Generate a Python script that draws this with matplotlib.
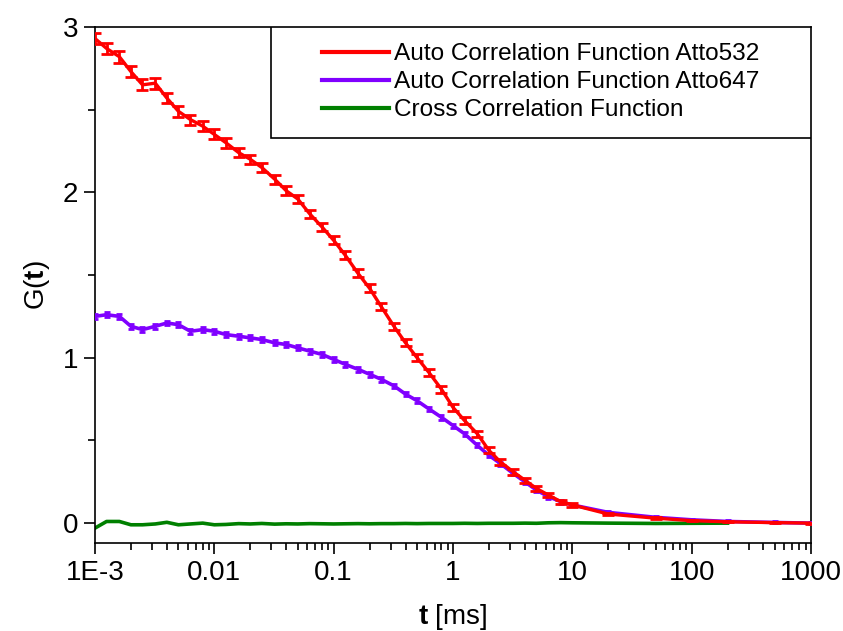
import matplotlib
matplotlib.use("Agg")
import matplotlib.pyplot as plt
from matplotlib.patches import Rectangle
from matplotlib.lines import Line2D
from matplotlib.ticker import FixedLocator, FixedFormatter, LogLocator, MultipleLocator

plt.rcParams['font.family'] = ['Liberation Sans', 'DejaVu Sans']
plt.rcParams['mathtext.fontset'] = 'custom'
plt.rcParams['mathtext.bf'] = 'Liberation Sans:bold'
plt.rcParams['mathtext.rm'] = 'Liberation Sans'

# lag time [ms]
t = [0.001, 0.00125, 0.0016, 0.002, 0.0025, 0.0032, 0.004, 0.005, 0.0063, 0.008,
     0.01, 0.0125, 0.016, 0.02, 0.025, 0.032, 0.04, 0.05, 0.063, 0.08,
     0.1, 0.125, 0.16, 0.2, 0.25, 0.32, 0.4, 0.5, 0.63, 0.8,
     1.0, 1.25, 1.6, 2.0, 2.5, 3.2, 4.0, 5.0, 6.3, 8.0,
     10, 20, 50, 100, 200, 500, 1000]

acf_532 = [2.93, 2.87, 2.82, 2.73, 2.65, 2.66, 2.57, 2.49, 2.44, 2.40,
           2.35, 2.30, 2.24, 2.20, 2.15, 2.08, 2.01, 1.96, 1.87, 1.79,
           1.71, 1.62, 1.51, 1.42, 1.31, 1.19, 1.09, 1.00, 0.91, 0.81,
           0.70, 0.62, 0.54, 0.44, 0.37, 0.31, 0.26, 0.21, 0.17, 0.13,
           0.11, 0.055, 0.03, 0.015, 0.008, 0.003, 0.0]
err_532 = [0.035, 0.035, 0.035, 0.033, 0.033, 0.033, 0.032, 0.032, 0.03, 0.03,
           0.03, 0.03, 0.028, 0.028, 0.028, 0.027, 0.027, 0.026, 0.026, 0.025,
           0.025, 0.025, 0.024, 0.024, 0.023, 0.023, 0.022, 0.022, 0.021, 0.021,
           0.02, 0.02, 0.019, 0.018, 0.017, 0.016, 0.015, 0.014, 0.013, 0.012,
           0.01, 0.008, 0.006, 0.005, 0.004, 0.003, 0.003]

acf_647 = [1.25, 1.26, 1.25, 1.19, 1.17, 1.19, 1.21, 1.20, 1.16, 1.17,
           1.16, 1.14, 1.13, 1.12, 1.11, 1.09, 1.08, 1.06, 1.04, 1.02,
           0.99, 0.96, 0.93, 0.90, 0.87, 0.83, 0.78, 0.74, 0.69, 0.64,
           0.59, 0.54, 0.47, 0.41, 0.36, 0.30, 0.25, 0.20, 0.16, 0.13,
           0.11, 0.065, 0.035, 0.02, 0.01, 0.004, 0.0]
err_647 = [0.015] * 20 + [0.014] * 10 + [0.012] * 10 + [0.006] * 7

t_cc = t[:45]
ccf = [-0.03, 0.01, 0.01, -0.01, -0.01, -0.005, 0.005, -0.01, -0.005, 0.0,
       -0.01, -0.008, -0.003, -0.005, -0.002, -0.006, -0.004, -0.005, -0.003, -0.004,
       -0.005, -0.004, -0.003, -0.004, -0.003, -0.003, -0.002, -0.003, -0.002, -0.002,
       -0.002, -0.001, -0.002, -0.001, -0.001, -0.001, 0.0, -0.001, 0.002, 0.003,
       0.002, 0.0, -0.002, -0.001, 0.0]

xticks = [1e-3, 1e-2, 1e-1, 1, 10, 100, 1000]
xticklabels = ["1E-3", "0.01", "0.1", "1", "10", "100", "1000"]
labels = ['Auto Correlation Function Atto532', 'Auto Correlation Function Atto647',
          'Cross Correlation Function']
colors = ['#ff0000', '#8000ff', '#008000']

fig = plt.figure(figsize=(8.43, 6.31), dpi=100)
ax = fig.add_axes([0.1127, 0.1395, 0.8493, 0.8178])

ax.plot(t_cc, ccf, color=colors[2], lw=2.6, zorder=2)
ax.errorbar(t, acf_647, yerr=err_647, color=colors[1], lw=2.6, elinewidth=2,
            capsize=2, capthick=2, zorder=3)
ax.errorbar(t, acf_532, yerr=err_532, color=colors[0], lw=2.4, elinewidth=2,
            capsize=4.5, capthick=2, zorder=4)

ax.set_xscale('log')
ax.set_xlim(1e-3, 1000)
ax.set_ylim(-0.12, 3.0)

ax.xaxis.set_major_locator(FixedLocator(xticks))
ax.xaxis.set_major_formatter(FixedFormatter(xticklabels))
ax.xaxis.set_minor_locator(LogLocator(base=10, subs=range(2, 10), numticks=20))
ax.xaxis.set_minor_formatter(plt.NullFormatter())
ax.yaxis.set_major_locator(MultipleLocator(1))
ax.yaxis.set_minor_locator(MultipleLocator(0.5))

ax.tick_params(which='both', direction='out', width=1.2, labelsize=20,
               top=False, right=False, colors='black')
ax.tick_params(which='major', length=8, pad=4)
ax.tick_params(which='minor', length=5)
for s in ax.spines.values():
    s.set_linewidth(1.2)

ax.set_ylabel(r'G($\mathbf{t}$)', fontsize=20, labelpad=8)
ax.set_xlabel(r'$\mathbf{t}$ [ms]', fontsize=20, labelpad=12)

# legend box spans to the right edge of the axes
ax.add_patch(Rectangle((0.2458, 0.785), 0.7542, 0.215, transform=ax.transAxes,
                       facecolor='white', edgecolor='black', lw=1.2, zorder=5))
handles = [Line2D([], [], color=c, lw=3) for c in colors]
leg = ax.legend(handles, labels, loc='center',
                bbox_to_anchor=(0.2458, 0.785, 0.7542, 0.215), frameon=False,
                fontsize=17.6, handlelength=2.75, handletextpad=0.2,
                labelspacing=0.24, borderpad=0)
leg.set_zorder(6)

fig.savefig('out.png', dpi=100)
